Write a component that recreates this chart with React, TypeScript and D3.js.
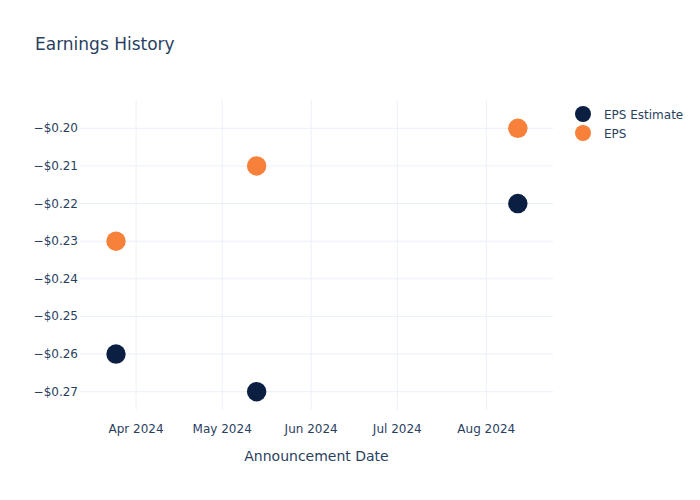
import React from "react";
import * as d3 from "d3";

const dates = ["2024-03-25", "2024-05-13", "2024-08-12"];
const epsEstimate = [-0.26, -0.27, -0.22];
const eps = [-0.23, -0.21, -0.2];
const yTicks = [-0.2, -0.21, -0.22, -0.23, -0.24, -0.25, -0.26, -0.27];
const xTicks = ["2024-04-01", "2024-05-01", "2024-06-01", "2024-07-01", "2024-08-01"];
const seriesNames = ["EPS Estimate", "EPS"];
const colors = ["#0b1f42", "#f7803a"];

const W = 700, H = 500;
const M = { l: 80, r: 147, t: 100, b: 90 };
const FONT = '"DejaVu Sans", verdana, arial, sans-serif';
const TXT = "#2a3f5f";

export default function App() {
  const parse = d3.utcParse("%Y-%m-%d");
  const x = d3
    .scaleUtc()
    .domain([new Date(Date.UTC(2024, 2, 12, 11)), new Date(Date.UTC(2024, 7, 24, 6))])
    .range([M.l, W - M.r]);
  const y = d3.scaleLinear().domain([-0.274863, -0.19248]).range([H - M.b, M.t]);
  const fmtY = (v: number) => "\u2212$" + Math.abs(v).toFixed(2);
  const fmtX = d3.utcFormat("%b %Y");
  const series = [epsEstimate, eps];

  return (
    <svg width={W} height={H} style={{ position: "absolute", left: 0, top: 0, background: "#fff" }}>
      <rect x={0} y={0} width={W} height={H} fill="#fff" />
      <text x={35} y={50} fontFamily={FONT} fontSize={17} fill={TXT}>
        Earnings History
      </text>
      {xTicks.map((t) => {
        const xx = x(parse(t)!);
        return (
          <g key={t}>
            <line x1={xx} x2={xx} y1={M.t} y2={H - M.b} stroke="#ebf0f8" strokeWidth={1} />
            <text x={xx} y={H - M.b + 23} textAnchor="middle" fontFamily={FONT} fontSize={12} fill={TXT}>
              {fmtX(parse(t)!)}
            </text>
          </g>
        );
      })}
      {yTicks.map((t) => {
        const yy = y(t);
        return (
          <g key={t}>
            <line x1={M.l} x2={W - M.r} y1={yy} y2={yy} stroke="#ebf0f8" strokeWidth={1} />
            <text x={M.l - 2} y={yy + 4} textAnchor="end" fontFamily={FONT} fontSize={12} fill={TXT}>
              {fmtY(t)}
            </text>
          </g>
        );
      })}
      {series.map((s, si) =>
        s.map((v, i) => (
          <circle key={si + "-" + i} cx={x(parse(dates[i])!)} cy={y(v)} r={9.7} fill={colors[si]} />
        ))
      )}
      <text x={(M.l + W - M.r) / 2} y={461} textAnchor="middle" fontFamily={FONT} fontSize={14} fill={TXT}>
        Announcement Date
      </text>
      {seriesNames.map((n, i) => (
        <g key={n} transform={`translate(583, ${114 + i * 19})`}>
          <circle cx={0} cy={0} r={8} fill={colors[i]} />
          <text x={21} y={4.5} fontFamily={FONT} fontSize={12} fill={TXT}>
            {n}
          </text>
        </g>
      ))}
    </svg>
  );
}
